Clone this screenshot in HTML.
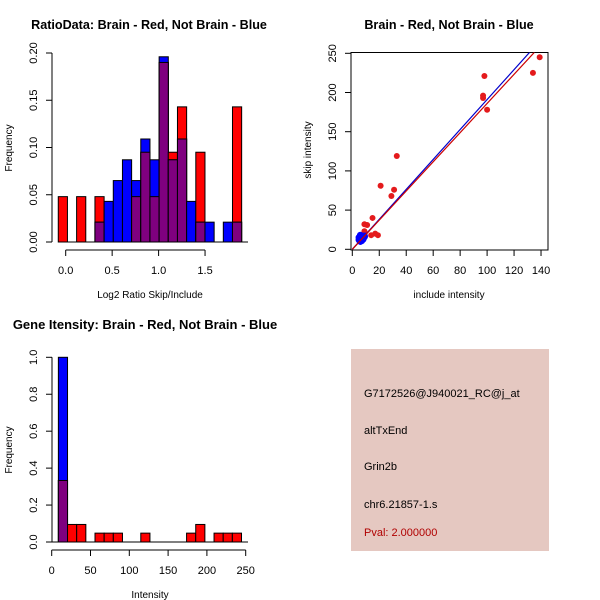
<!DOCTYPE html>
<html><head><meta charset="utf-8"><style>
body{margin:0;background:#fff}
svg{display:block;font-family:"Liberation Sans",sans-serif}
</style></head><body>
<svg id="c" width="600" height="600" viewBox="0 0 600 600">
<rect width="600" height="600" fill="#fff"/>
<g id="p1"></g>
<g id="p2"></g>
<g id="p3"></g>
<g>
<rect x="351" y="349" width="198" height="202" fill="#e5c8c1"/>
<text x="364" y="397" font-size="11" fill="#000">G7172526@J940021_RC@j_at</text>
<text x="364" y="434" font-size="11" fill="#000">altTxEnd</text>
<text x="364" y="470" font-size="11" fill="#000">Grin2b</text>
<text x="364" y="508" font-size="11" fill="#000">chr6.21857-1.s</text>
<text x="364" y="536" font-size="11" fill="#b00000">Pval: 2.000000</text>
</g>
</svg>
<script>
// Panel 1 data
const ratioBinStart = -0.08;
const ratioBinWidth = 0.0987;
const ratioRed  = [0.048,0,0.048,0,0.048,0,0,0,0.048,0.095,0.048,0.190,0.095,0.143,0,0.095,0,0,0,0.143];
const ratioBlue = [0,0,0,0,0.021,0.043,0.065,0.087,0.065,0.109,0.087,0.196,0.087,0.109,0.043,0.021,0.021,0,0.021,0.021];
const ratioXTicks = [0.0,0.5,1.0,1.5];
const ratioXLabels = ["0.0","0.5","1.0","1.5"];
const ratioYTicks = [0,0.05,0.10,0.15,0.20];
const ratioYLabels = ["0.00","0.05","0.10","0.15","0.20"];
// Panel 2 data
const redInclude = [9,11,9,15,14,17,19,21,29,31,33,97,97,98,100,134,139];
const redSkip    = [32,31,23,40,18,20,18,81,68,76,119,193,196,221,178,225,245];
const blueInclude = [5,6,7,8,9,6,7,8,5,6,7,8,9,6];
const blueSkip    = [12,14,15,16,17,10,11,13,15,18,12,14,16,17];
const redSlope = 1.86;
const blueSlope = 1.91;
const scatXTicks = [0,20,40,60,80,100,120,140];
const scatYTicks = [0,50,100,150,200,250];
// Panel 3 data
const intBinStart = 8.6;
const intBinWidth = 11.8;
const intRed  = [0.333,0.095,0.095,0,0.048,0.048,0.048,0,0,0.048,0,0,0,0,0.048,0.095,0,0.048,0.048,0.048];
const intBlue = [1.0,0,0,0,0,0,0,0,0,0,0,0,0,0,0,0,0,0,0,0];
const intXTicks = [0,50,100,150,200,250];
const intYTicks = [0,0.2,0.4,0.6,0.8,1.0];
const intYLabels = ["0.0","0.2","0.4","0.6","0.8","1.0"];

const NS="http://www.w3.org/2000/svg";
function mk(parent,tag,attrs){const e=document.createElementNS(NS,tag);for(const k in attrs)e.setAttribute(k,attrs[k]);parent.appendChild(e);return e;}
function txt(parent,x,y,s,size,rot,anchor,weight){const t=mk(parent,'text',{x:x,y:y,'font-size':size,'text-anchor':anchor||'middle'});if(weight)t.setAttribute('font-weight',weight);if(rot)t.setAttribute('transform','rotate(-90 '+x+' '+y+')');t.textContent=s;return t;}

function histPanel(g,o){
  const sx=v=>o.x0+(v-o.xv0)*o.kx, sy=v=>o.y0-v*o.ky;
  for(let i=0;i<o.red.length;i++){
    const a=sx(o.start+i*o.w), b=sx(o.start+(i+1)*o.w);
    const r=o.red[i], bl=o.blue[i], m=Math.min(r,bl);
    if(r>0){const e=mk(g,'rect',{x:a,y:sy(r),width:b-a,height:sy(0)-sy(r),fill:'#ff0000',stroke:'#000','stroke-width':1});
      
      }
    if(bl>0){const e=mk(g,'rect',{x:a,y:sy(bl),width:b-a,height:sy(0)-sy(bl),fill:'#0000ff',stroke:'#000','stroke-width':1});
      
      }
    if(m>0){const e=mk(g,'rect',{x:a,y:sy(m),width:b-a,height:sy(0)-sy(m),fill:'#7f007f',stroke:'#000','stroke-width':1});
      
      }
  }
  mk(g,'line',{x1:o.x0-4,x2:o.baseEnd,y1:o.y0,y2:o.y0,stroke:'#000'});
  const ya=mk(g,'g',{});
  
  
  mk(ya,'line',{x1:o.yax,x2:o.yax,y1:sy(o.yt[0]),y2:sy(o.yt[o.yt.length-1]),stroke:'#000'});
  o.yt.forEach((v,i)=>{mk(ya,'line',{x1:o.yax,x2:o.yax-6,y1:sy(v),y2:sy(v),stroke:'#000'});txt(ya,o.yax-15,sy(v),o.yl[i],11,true);});
  const xa=mk(g,'g',{});
  
  
  mk(xa,'line',{x1:sx(o.xt[0]),x2:sx(o.xt[o.xt.length-1]),y1:o.xay,y2:o.xay,stroke:'#000'});
  o.xt.forEach((v,i)=>{mk(xa,'line',{x1:sx(v),x2:sx(v),y1:o.xay,y2:o.xay+6,stroke:'#000'});txt(xa,sx(v),o.xay+24,o.xl[i],11);});
}

const g1=document.getElementById('p1');
histPanel(g1,{x0:65.7,xv0:0,kx:92.9,y0:242,ky:945,start:ratioBinStart,w:ratioBinWidth,red:ratioRed,blue:ratioBlue,
  yax:52,yt:ratioYTicks,yl:ratioYLabels,xt:ratioXTicks,xl:ratioXLabels,xay:250,baseEnd:248});
const t1=txt(g1,149,29,'RatioData: Brain - Red, Not Brain - Blue',12.6,false,'middle','bold');

const t1x=txt(g1,150,298,'Log2 Ratio Skip/Include',10);

const t1y=txt(g1,12,148,'Frequency',10,true);


const g3=document.getElementById('p3');
histPanel(g3,{x0:51.7,xv0:0,kx:0.776,y0:542,ky:184.7,start:intBinStart,w:intBinWidth,red:intRed,blue:intBlue,
  yax:52,yt:intYTicks,yl:intYLabels,xt:intXTicks,xl:intXTicks.map(String),xay:550,baseEnd:248});
const t3=txt(g3,145,329,'Gene Itensity: Brain - Red, Not Brain - Blue',13,false,'middle','bold');

const t3x=txt(g3,150,598,'Intensity',10);

const t3y=txt(g3,12,450,'Frequency',10,true);


const g2=document.getElementById('p2');
const px=v=>352.3+v*1.348, py=v=>249.3-v*0.784;
const box=mk(g2,'rect',{x:351,y:52.5,width:197,height:197.5,fill:'none',stroke:'#000'});


const cl=mk(g2,'clipPath',{id:'cp'});mk(cl,'rect',{x:351,y:52.5,width:197,height:197.5});
const inner=mk(g2,'g',{'clip-path':'url(#cp)'});
redInclude.forEach((v,i)=>{const c=mk(inner,'circle',{cx:px(v),cy:py(redSkip[i]),r:3,fill:'#e41a1c'});
  
  });
blueInclude.forEach((v,i)=>{const c=mk(inner,'circle',{cx:px(v),cy:py(blueSkip[i]),r:3.5,fill:'#0000ff'});
  
  });
const lb=mk(inner,'line',{x1:px(0),y1:py(0),x2:px(150),y2:py(150*blueSlope),stroke:'#0000cc','stroke-width':1.2});


const lr=mk(inner,'line',{x1:px(0),y1:py(0),x2:px(150),y2:py(150*redSlope),stroke:'#cc0000','stroke-width':1.2});


const xa2=mk(g2,'g',{});


scatXTicks.forEach(v=>{mk(xa2,'line',{x1:px(v),x2:px(v),y1:250,y2:256,stroke:'#000'});txt(xa2,px(v),274,String(v),11);});
const ya2=mk(g2,'g',{});


scatYTicks.forEach(v=>{mk(ya2,'line',{x1:351,x2:345,y1:py(v),y2:py(v),stroke:'#000'});txt(ya2,336,py(v),String(v),11,true);});
const t2=txt(g2,449,29,'Brain - Red, Not Brain - Blue',12.6,false,'middle','bold');

const t2x=txt(g2,449,298,'include intensity',10);

const t2y=txt(g2,311,150,'skip intensity',10,true);

</script>
</body></html>
